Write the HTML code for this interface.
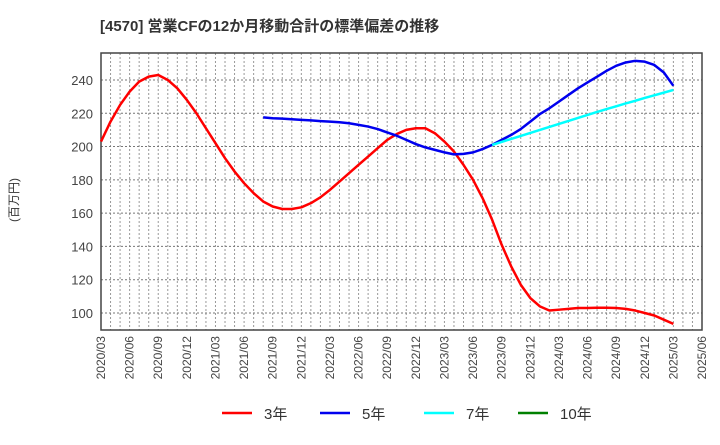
<!DOCTYPE html>
<html><head><meta charset="utf-8"><style>
body{margin:0;background:#fff;font-family:"Liberation Sans","Noto Sans CJK JP",sans-serif}
svg text{font-family:"Liberation Sans","Noto Sans CJK JP",sans-serif}
</style></head><body>
<svg id="c" width="720" height="440" xmlns="http://www.w3.org/2000/svg">
<text x="100" y="31" font-size="15" font-weight="bold" fill="#333">[4570]  営業CFの12か月移動合計の標準偏差の推移</text>
<text transform="translate(18,200) rotate(-90)" font-size="12" fill="#333" text-anchor="middle">(百万円)</text>
<g id="grid"></g><g id="axes"></g><g id="series"></g><g id="legend"></g>
</svg>
<script>
const yTicks=[100,120,140,160,180,200,220,240];
const xLabels=["2020/03","2020/06","2020/09","2020/12","2021/03","2021/06","2021/09","2021/12","2022/03","2022/06","2022/09","2022/12","2023/03","2023/06","2023/09","2023/12","2024/03","2024/06","2024/09","2024/12","2025/03","2025/06"];
const s3=[203,215,225,233,239,242,243,240,235,228,220,211,202,193,185,178,172,167,164,162.5,162.5,163.5,166,169.5,174,179,184,189,194,199,204,207.5,210,211,211,208,203,197,189,180,169,156,141,128,117,109,104,101.5,102,102.5,103,103,103.2,103.2,103,102.5,101.5,100,98.5,96,93.5];
const s5Start=17;
const s5=[217.5,217,216.8,216.4,216,215.7,215.3,215,214.6,214,213,212,210.5,208.5,206.5,204,201.5,199.5,198,196.5,195.3,195.6,196.5,198.5,201,204,207,210.5,215,219.5,223,227,231,235,238.5,242,245.5,248.5,250.5,251.5,251,249,244.5,236.5];
const s7Start=41;
const s7=[201,202.8,204.6,206.4,208.2,210,211.8,213.6,215.4,217.2,219,220.8,222.5,224.2,225.9,227.5,229.2,230.8,232.4,234];
const s10=[];
const L=101,R=702,T=53,B=330,ymin=89.8,ymax=256.2,nMonths=63;
const X=i=>L+(R-L)*i/nMonths, Y=v=>B-(B-T)*(v-ymin)/(ymax-ymin);
const NS="http://www.w3.org/2000/svg";
function mk(tag,attrs,parent){const e=document.createElementNS(NS,tag);for(const k in attrs)e.setAttribute(k,attrs[k]);document.getElementById(parent).appendChild(e);return e;}
for(let m=1;m<nMonths;m++){const l=mk("line",{x1:X(m),x2:X(m),y1:T,y2:B,stroke:"#999","stroke-dasharray":"2,2","stroke-width":1},"grid");

}
yTicks.forEach(v=>{const l=mk("line",{x1:L,x2:R,y1:Y(v),y2:Y(v),stroke:"#777","stroke-dasharray":"2,2","stroke-width":1},"grid");


const t=mk("text",{x:L-8,y:Y(v)+5,"font-size":13,fill:"#444","text-anchor":"end"},"axes");t.textContent=v;

});
xLabels.forEach((s,i)=>{const x=X(i*3);const t=mk("text",{transform:`translate(${x+4},336) rotate(-90)`,"font-size":12,fill:"#444","text-anchor":"end"},"axes");t.textContent=s;

});
const fr=mk("rect",{x:L,y:T,width:R-L,height:B-T,fill:"none",stroke:"#444","stroke-width":1.5},"axes");


function line(arr,start,color,name){if(!arr.length)return;const p=mk("polyline",{points:arr.map((v,i)=>X(start+i)+","+Y(v)).join(" "),fill:"none",stroke:color,"stroke-width":2.5,"stroke-linejoin":"round"},"series");

}
line(s3,0,"#ff0000","series-3y");
line(s5,s5Start,"#0000ee","series-5y");
line(s7,s7Start,"#00ffff","series-7y");
line(s10,0,"#008000","series-10y");
[["3年","#ff0000",222],["5年","#0000ee",320],["7年","#00ffff",424],["10年","#008000",518]].forEach(([n,c,x])=>{
const l=mk("line",{x1:x,x2:x+30,y1:413,y2:413,stroke:c,"stroke-width":2.5},"legend");


const t=mk("text",{x:x+42,y:419,"font-size":15,fill:"#333"},"legend");t.textContent=n;

});
</script>
</body></html>
